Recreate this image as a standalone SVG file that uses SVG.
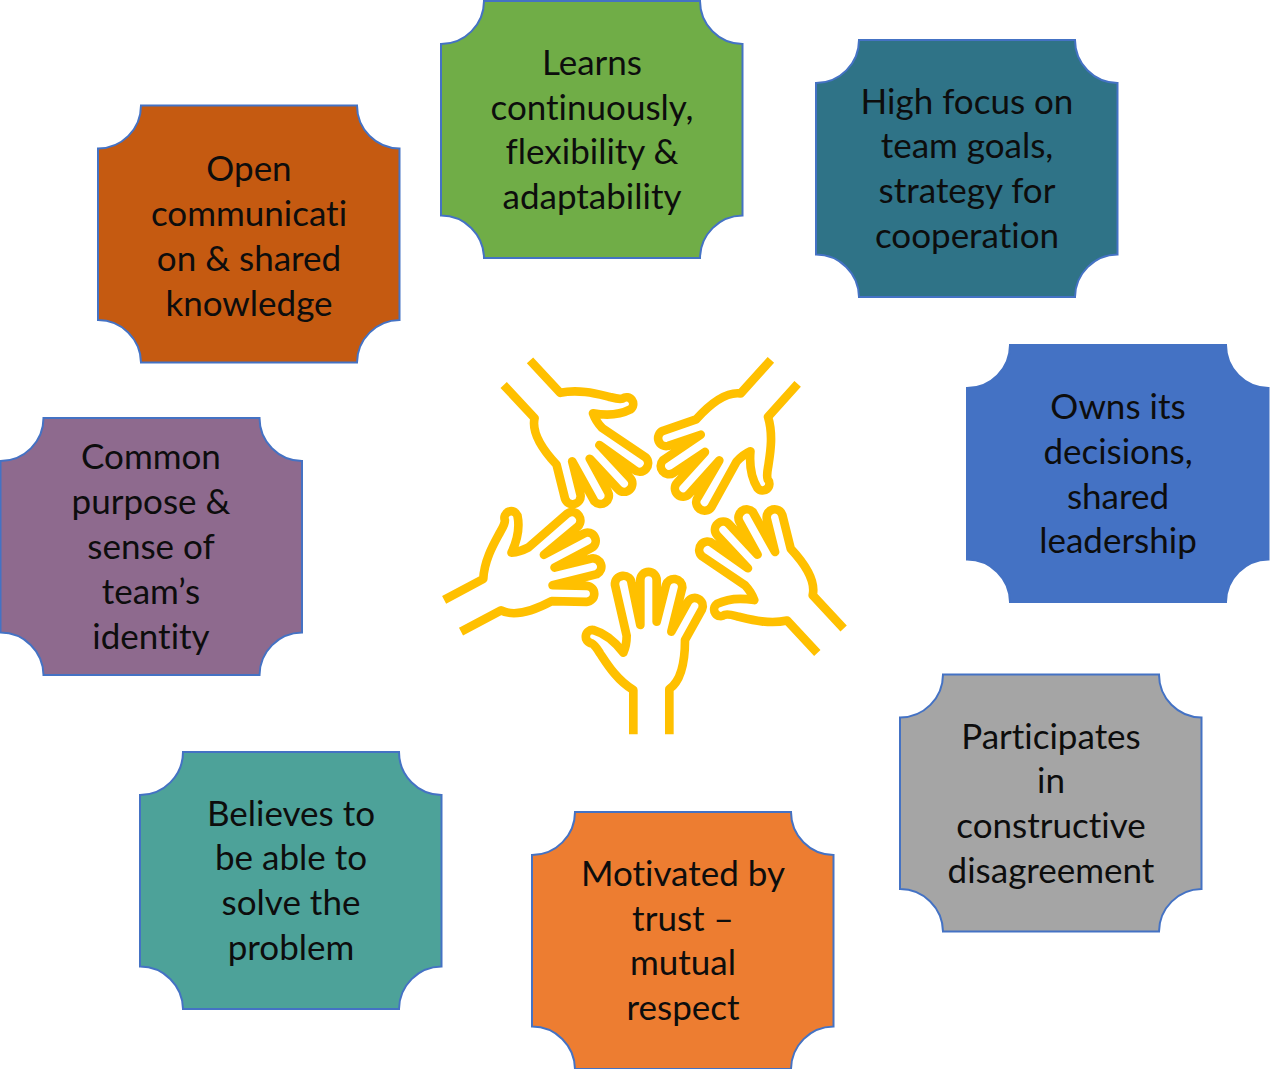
<svg xmlns="http://www.w3.org/2000/svg" width="1270" height="1069" viewBox="0 0 1270 1069">
<style>
.p{stroke:#4472C4;stroke-width:2}
text{font-family:"Lato","Open Sans",sans-serif;font-size:35px;fill:#0d0d0d;text-anchor:middle;font-variant-ligatures:none}
.hand{fill:none;stroke:#FFC000;stroke-width:26;stroke-linejoin:round;stroke-linecap:butt}
</style>
<defs>
<path id="pl" d="M43 0H259A43 43 0 0 0 301.5 43V214.5A43 43 0 0 0 259 257H43A43 43 0 0 0 0 214.5V43A43 43 0 0 0 43 0Z"/>
<path id="h" transform="translate(430 490) scale(.33333)" d="M610 733V600C560 570 530 520 510 490C500 474 495 465 485 460A20 20 0 0 1 490 420C525 430 555 455 580 488C588 470 590 455 590 437L555 285A25 25 0 0 1 605 280L631 405V270A24.5 24.5 0 0 1 680 270V395L708 285A25 25 0 0 1 757 292L724 425L774 335A24 24 0 0 1 816 358L765 450C765 520 750 575 718 597V733"/>
</defs>
<g id="hands">
<use class="hand" href="#h"/>
<use class="hand" href="#h" transform="translate(830 640.7) rotate(-43) translate(-651 -734)"/>
<use class="hand" href="#h" transform="translate(452.7 615.3) rotate(62) translate(-651 -734)"/>
<use class="hand" href="#h" transform="translate(517.3 372.7) rotate(137) translate(-651 -734)"/>
<use class="hand" href="#h" transform="translate(784.3 372.3) rotate(-138) translate(-651 -734)"/>
</g>
<g id="connectors"/>
<g id="n-open"><use class="p" href="#pl" x="98" y="105.5" fill="#C55A11"/><text x="249" y="181">Open</text><text x="249" y="226">communicati</text><text x="249" y="271">on &amp; shared</text><text x="249" y="316">knowledge</text></g>
<g id="n-learns"><use class="p" href="#pl" x="441" y="1" fill="#70AD47"/><text x="592" y="75">Learns</text><text x="592" y="120">continuously,</text><text x="592" y="164">flexibility &amp;</text><text x="592" y="209">adaptability</text></g>
<g id="n-focus"><use class="p" href="#pl" x="816" y="40" fill="#2F7387"/><text x="967" y="114">High focus on</text><text x="967" y="158">team goals,</text><text x="967" y="203">strategy for</text><text x="967" y="248">cooperation</text></g>
<g id="n-owns"><use class="p" href="#pl" x="967" y="345" fill="#4472C4"/><text x="1118" y="419">Owns its</text><text x="1118" y="464">decisions,</text><text x="1118" y="509">shared</text><text x="1118" y="553">leadership</text></g>
<g id="n-part"><use class="p" href="#pl" x="900" y="674.5" fill="#A5A5A5"/><text x="1051" y="749">Participates</text><text x="1051" y="793">in</text><text x="1051" y="838">constructive</text><text x="1051" y="883">disagreement</text></g>
<g id="n-motiv"><use class="p" href="#pl" x="532" y="812" fill="#ED7D31"/><text x="683" y="886">Motivated by</text><text x="683" y="931">trust –</text><text x="683" y="975">mutual</text><text x="683" y="1020">respect</text></g>
<g id="n-believes"><use class="p" href="#pl" x="140" y="752" fill="#4DA299"/><text x="291" y="826">Believes to</text><text x="291" y="870">be able to</text><text x="291" y="915">solve the</text><text x="291" y="960">problem</text></g>
<g id="n-common"><use class="p" href="#pl" x="0.5" y="418" fill="#8E6A8E"/><text x="151" y="469">Common</text><text x="151" y="514">purpose &amp;</text><text x="151" y="559">sense of</text><text x="151" y="604">team’s</text><text x="151" y="649">identity</text></g>
</svg>
